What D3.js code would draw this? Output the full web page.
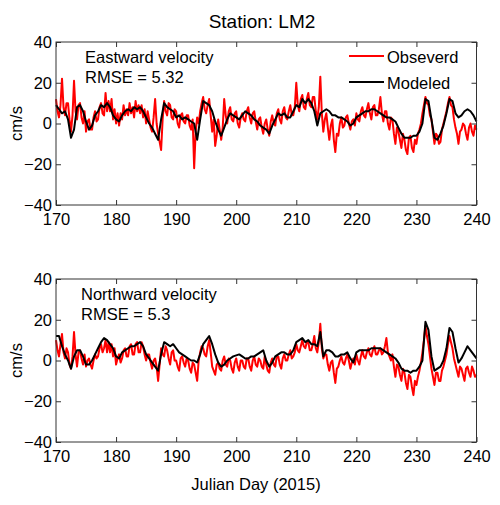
<!DOCTYPE html>
<meta charset="utf-8">
<style>
  body { margin: 0; background: #fff; }
  text { font-family: "Liberation Sans", Arial, Helvetica, sans-serif; fill: #000; }
</style>
<svg width="500" height="505"></svg>
<script src="https://d3js.org/d3.v7.min.js"></script>
<script>
// days run from 170 to 240; modeled in half-day steps, observed in quarter-day steps
var dayStart = 170, modeledStep = 0.5, observedStep = 0.25;

var eastModeled = [
  9, 7, 5, 6, 2, -7, -3, 8, 9, 6,
  1, -3, -1, 4, 6, 9, 8, 10, 8, 4,
  2, 1, 4, 6, 7, 6, 8, 7, 8, 6,
  3, 0, -2, -5, -8, 2, 10, 8, 7, 6,
  3, 4, 2, 3, 2, 1, 0, -8, 2, 11,
  10, 9, 6, 1, -3, -6, -2, 2, 5, 4,
  3, 2, 4, 6, 5, 4, 2, 1, -1, -2,
  -3, -5, -1, 2, 5, 4, 5, 3, 3, 6,
  9, 8, 12, 10, 12, 10, 6, -1, 5, 6,
  7, 6, 4, 4, 3, 3, 2, 1, -1, 0,
  3, 4, 5, 6, 6, 7, 7, 6, 5, 4,
  3, 3, 2, 1, -2, -5, -7, -7, -7, -6,
  -6, -4, 0, 12, 11, 2, -7, -8, -5, -1,
  5, 12, 11, 5, 3, 4, 6, 7, 6, 4,
  1
];
// one row per day: four readings
var eastObserved = [
  12, 6, 3, 9,   22, 8, 4, 10,   10, 2, -4, 4,   21, 6, 2, 9,   10, 3, 0, 6,
  -4, 1, 2, -3,  -3, 3, 6, 1,    2, 8, 10, 5,    4, 15, 6, 11,  6, 12, 2, 7,
  0, 5, -1, 5,   2, 9, 4, 7,     4, 10, 5, 8,    3, 11, 6, 9,   5, 9, 3, 7,
  0, 6, 2, -2,   -4, 3, 12, 0,   -5, -9, -13, 2, 11, 6, 4, 10,  9, 3, 2, 7,
  6, 0, -2, 4,   5, 1, 0, 4,     4, -1, -3, 2,   -22, -4, 3, 0, 6, 10, 13, 7,
  5, 9, 12, 4,   -4, 2, -11, -6, 2, -3, -8, -2,  12, 4, 0, 6,   8, 2, 1, 5,
  6, 0, -2, 3,   5, 2, 1, 6,     8, 3, 0, 5,     6, 1, -3, 2,   3, -2, -5, 0,
  2, -3, -6, 1,  4, 0, -1, 5,    7, 2, 0, 6,     8, 3, 2, 6,    9, 4, 4, 8,
  20, 9, 6, 12,  14, 8, 7, 12,   15, 9, 8, 13,   13, 6, 2, 8,   23, 5, -4, 2,
  5, -2, -8, -1, 2, -8, -14, -5, -6, 0, 3, -2,   -1, 3, 4, 0,   -3, 1, 2, -1,
  5, 2, 1, 6,    8, 4, 3, 7,     10, 5, 2, 8,    9, 4, 4, 7,    13, 5, 1, 6,
  6, 0, -3, 3,   2, -5, -10, -2, -4, -8, -12, -5, -8, -13, -15, -7, -6, -12, -14, -8,
  -10, -5, -3, 0, 5, 9, 13, 10,  9, 4, 2, -4,    -10, -5, -6, -10, -9, -3, 0, 3,
  6, 10, 13, 9,  8, 2, -2, -5,   -10, -4, -3, 0, -1, -5, -8, -2, 0, -4, -6, -1,
  -3
];
var northModeled = [
  12, 12, 7, 3, 0, -4, 2, 5, 5, 2,
  -2, -2, 0, 3, 6, 9, 11, 10, 8, 6,
  2, 1, 4, 5, 6, 7, 7, 8, 9, 7,
  3, 1, -1, -3, -5, 3, 9, 8, 7, 8,
  6, 4, 3, 2, 1, 0, 0, -1, 3, 8,
  10, 12, 8, 3, -1, -3, -2, 0, 1, 2,
  2.5, 3, 2, 1, 1, 2, 2, 3, 4, 5,
  0, -3, -1, 2, 3, 4, 4, 3, 3, 5,
  9, 10, 11, 9, 10, 8, 8, 7, 14, 2,
  5, 5, 4, 2, 2, 3, 3, 4, 1, -1,
  4, 5, 5, 5, 5, 6, 6, 6, 6, 5,
  4, 3, 2, 1, -1, -4, -5, -5, -6, -5,
  -5, -3, 0, 19, 15, 2, -5, -4, -3, 0,
  6, 16, 14, 6, -1, 1, 4, 7, 5, 3,
  1
];
var northObserved = [
  10, 5, 2, 8,   13, 4, 1, 6,    4, -2, -4, 2,   14, 3, -3, 4,  5, 1, -2, 3,
  -3, 0, 1, -2,  -4, 0, 3, 1,    2, 6, 8, 4,     6, 10, 4, 9,   4, 8, 2, 6,
  -2, 1, 3, -1,  1, 5, 6, 2,     2, 7, 8, 3,     3, 8, 9, 4,    4, 9, 7, 3,
  0, 3, 3, -1,   -4, 0, 1, -3,   -10, -2, 6, 3,  2, 7, 5, 1,    -2, 4, 5, 0,
  0, -3, -5, 1,  2, -1, -3, 1,   0, -4, -6, -1,  -2, -6, -10, 0, 4, 7, 6, 3,
  2, 7, 10, 4,   -3, -5, -7, -2, -1, -4, -5, 0,  2, -2, -3, 1,  0, -4, -6, -1,
  1, -3, -5, 0,  0, -3, -4, 1,   1, -3, -5, 0,   2, -2, -3, 1,  0, -3, -4, 2,
  -2, -5, -6, -1, 1, -2, -3, 2,  2, -2, -4, 1,   3, 0, 0, 3,    5, 1, 2, 4,
  8, 5, 4, 7,    10, 7, 6, 9,    9, 5, 5, 8,     12, 6, 4, 9,   18, 6, 1, 3,
  3, -2, -5, -1, 0, -6, -11, -4, -3, 0, 2, -1,   -2, 1, 3, 0,   -4, -1, 1, -2,
  3, 0, -2, 2,   5, 2, 1, 4,     6, 3, 2, 5,     7, 3, 3, 5,    6, 3, 4, 7,
  11, 4, 2, 0,   3, -3, -8, -2,  -3, -7, -10, -4, -6, -11, -14, -7, -8, -13, -17, -10,
  -12, -8, -5, -1, 4, 10, 17, 12, 8, 2, -4, -8,  -12, -6, -6, -10, -10, -5, -3, 0,
  3, 8, 12, 9,   6, 1, -2, -5,   -8, -3, -4, -7, -10, -4, -3, -6, -8, -3, -5, -8,
  -7
];

var xTicks = [170, 180, 190, 200, 210, 220, 230, 240];
var yTicks = [-40, -20, 0, 20, 40];

var panels = [
  { top: 42, observed: eastObserved, modeled: eastModeled,
    label1: "Eastward velocity", label2: "RMSE = 5.32", legend: true },
  { top: 279, observed: northObserved, modeled: northModeled,
    label1: "Northward velocity", label2: "RMSE = 5.3", legend: false }
];

var svg = d3.select("svg"),
    left = 56, right = 476.5, ph = 163;

var x = d3.scaleLinear().domain([170, 240]).range([left, right]);

svg.append("text")
    .attr("x", 262).attr("y", 28)
    .attr("text-anchor", "middle")
    .style("font-size", "19px")
    .text("Station: LM2");

panels.forEach(function(p, k) {
  var y = d3.scaleLinear().domain([-40, 40]).range([p.top + ph, p.top]);
  var g = svg.append("g");

  function lineFor(step) {
    return d3.line()
        .x(function(d, i) { return x(dayStart + i * step); })
        .y(function(d) { return y(d); });
  }

  g.append("path").datum(p.observed)
      .attr("d", lineFor(observedStep)).attr("fill", "none")
      .attr("stroke", "#ff0000").attr("stroke-width", 2).attr("stroke-linejoin", "round");
  g.append("path").datum(p.modeled)
      .attr("d", lineFor(modeledStep)).attr("fill", "none")
      .attr("stroke", "#000").attr("stroke-width", 2).attr("stroke-linejoin", "round");

  // box with inward ticks on all sides
  g.append("g").attr("transform", "translate(0," + (p.top + ph) + ")")
      .call(d3.axisBottom(x).tickValues(xTicks).tickSize(-5).tickPadding(8))
      .call(styleAxis);
  g.append("g").attr("transform", "translate(0," + p.top + ")")
      .call(d3.axisTop(x).tickValues(xTicks).tickSize(-5).tickFormat(""))
      .call(styleAxis);
  g.append("g").attr("transform", "translate(" + left + ",0)")
      .call(d3.axisLeft(y).tickValues(yTicks).tickSize(-5).tickPadding(4))
      .call(styleAxis);
  g.append("g").attr("transform", "translate(" + right + ",0)")
      .call(d3.axisRight(y).tickValues(yTicks).tickSize(-5).tickFormat(""))
      .call(styleAxis);
  g.append("rect")
      .attr("x", left).attr("y", p.top)
      .attr("width", right - left).attr("height", ph)
      .attr("fill", "none").attr("stroke", "#333").attr("stroke-width", 1);

  g.append("text")
      .attr("transform", "translate(22," + (p.top + ph / 2) + ") rotate(-90)")
      .attr("text-anchor", "middle")
      .style("font-size", "16.5px")
      .text("cm/s");

  var tx = k == 0 ? 85 : 81;
  g.append("text").attr("x", tx).attr("y", p.top + 21)
      .style("font-size", "16.5px").text(p.label1);
  g.append("text").attr("x", tx).attr("y", p.top + 41)
      .style("font-size", "16.5px").text(p.label2);

  if (p.legend) {
    var lg = [["Obseverd", "#ff0000"], ["Modeled", "#000"]];
    lg.forEach(function(d, i) {
      var ly = p.top + 14 + i * 26;
      g.append("line").attr("x1", 349).attr("x2", 384)
          .attr("y1", ly).attr("y2", ly)
          .attr("stroke", d[1]).attr("stroke-width", 2);
      g.append("text").attr("x", 387).attr("y", ly + 7)
          .style("font-size", "16.5px").text(d[0]);
    });
  }
});

svg.append("text")
    .attr("x", 256).attr("y", 490)
    .attr("text-anchor", "middle")
    .style("font-size", "16.5px")
    .text("Julian Day (2015)");

function styleAxis(sel) {
  sel.select(".domain").remove();
  sel.selectAll(".tick line").attr("stroke", "#333");
  sel.selectAll(".tick text").style("font-size", "16.5px")
      .style("font-family", "Liberation Sans, Arial, sans-serif").attr("fill", "#000");
}
</script>
